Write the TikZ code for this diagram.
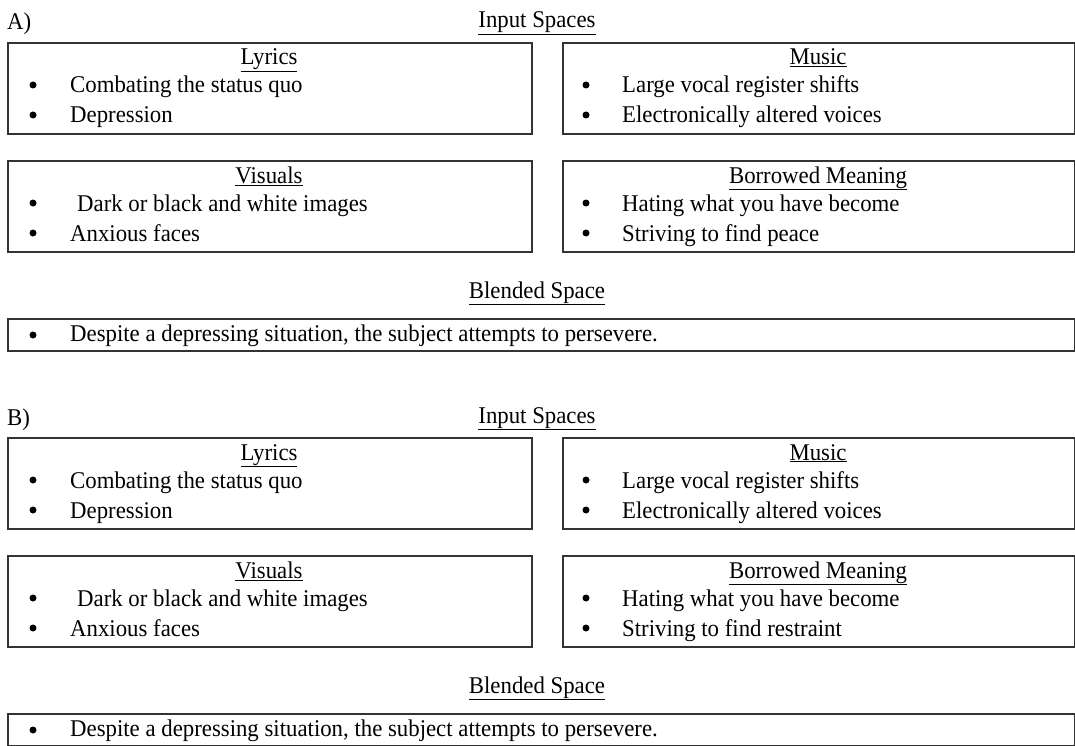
\documentclass[tikz,border=0pt]{standalone}
\usepackage{fontspec}
\setmainfont[FakeStretch=0.95]{Liberation Serif}
\tikzset{
  box/.style={draw=black!80, line width=1.6pt, inner sep=0pt, anchor=north west},
  txt/.style={anchor=base west, inner sep=0pt, font=\fontsize{24}{28}\selectfont},
  ttl/.style={anchor=base, inner sep=0pt, font=\fontsize{24}{28}\selectfont},
  dot/.style={circle, fill=black, inner sep=0pt, minimum size=7pt},
}
\newcommand\ulx[1]{\underline{#1}}
\newcommand\mkpanel[3]{%
  \node[txt] (#1lab) at (7,30) {#2)};
  \node[ttl] (#1in) at (537,28) {\ulx{Input Spaces}};
  % Lyrics
  \node[box, minimum width=524pt, minimum height=91pt] (#1ly) at (7,42) {};
  \node[ttl] (#1lyt) at (269,65) {\ulx{Lyrics}};
  \node[dot] (#1lyd1) at (33,85) {};
  \node[txt] (#1ly1) at (70,93) {Combating the status quo};
  \node[dot] (#1lyd2) at (33,115) {};
  \node[txt] (#1ly2) at (70,123) {Depression};
  % Music
  \node[box, minimum width=512pt, minimum height=91pt] (#1mu) at (562,42) {};
  \node[ttl] (#1mut) at (818,65) {\ulx{Music}};
  \node[dot] (#1mud1) at (586,85) {};
  \node[txt] (#1mu1) at (622,93) {Large vocal register shifts};
  \node[dot] (#1mud2) at (586,115) {};
  \node[txt] (#1mu2) at (622,123) {Electronically altered voices};
  % Visuals
  \node[box, minimum width=524pt, minimum height=91pt] (#1vi) at (7,160) {};
  \node[ttl] (#1vit) at (269,183) {\ulx{Visuals}};
  \node[dot] (#1vid1) at (33,203) {};
  \node[txt] (#1vi1) at (77,211) {Dark or black and white images};
  \node[dot] (#1vid2) at (33,233) {};
  \node[txt] (#1vi2) at (70,241) {Anxious faces};
  % Borrowed meaning
  \node[box, minimum width=512pt, minimum height=91pt] (#1bm) at (562,160) {};
  \node[ttl] (#1bmt) at (818,183) {\ulx{Borrowed Meaning}};
  \node[dot] (#1bmd1) at (586,203) {};
  \node[txt] (#1bm1) at (622,211) {Hating what you have become};
  \node[dot] (#1bmd2) at (586,233) {};
  \node[txt] (#1bm2) at (622,241) {#3};
  % Blended space
  \node[ttl] (#1bl) at (537,298) {\ulx{Blended Space}};
  \node[box, minimum width=1067pt, minimum height=32pt] (#1bb) at (7,318) {};
  \node[dot] (#1bbd) at (33,335) {};
  \node[txt] (#1bb1) at (70,341) {Despite a depressing situation, the subject attempts to persevere.};
}
\begin{document}
\begin{tikzpicture}[x=1pt, y=-1pt]
  \useasboundingbox (0,0) rectangle (1075,746);
  \mkpanel{A}{A}{Striving to find peace}
  \begin{scope}[yshift=-395pt]
    \mkpanel{B}{B}{Striving to find restraint}
  \end{scope}
\end{tikzpicture}
\end{document}
